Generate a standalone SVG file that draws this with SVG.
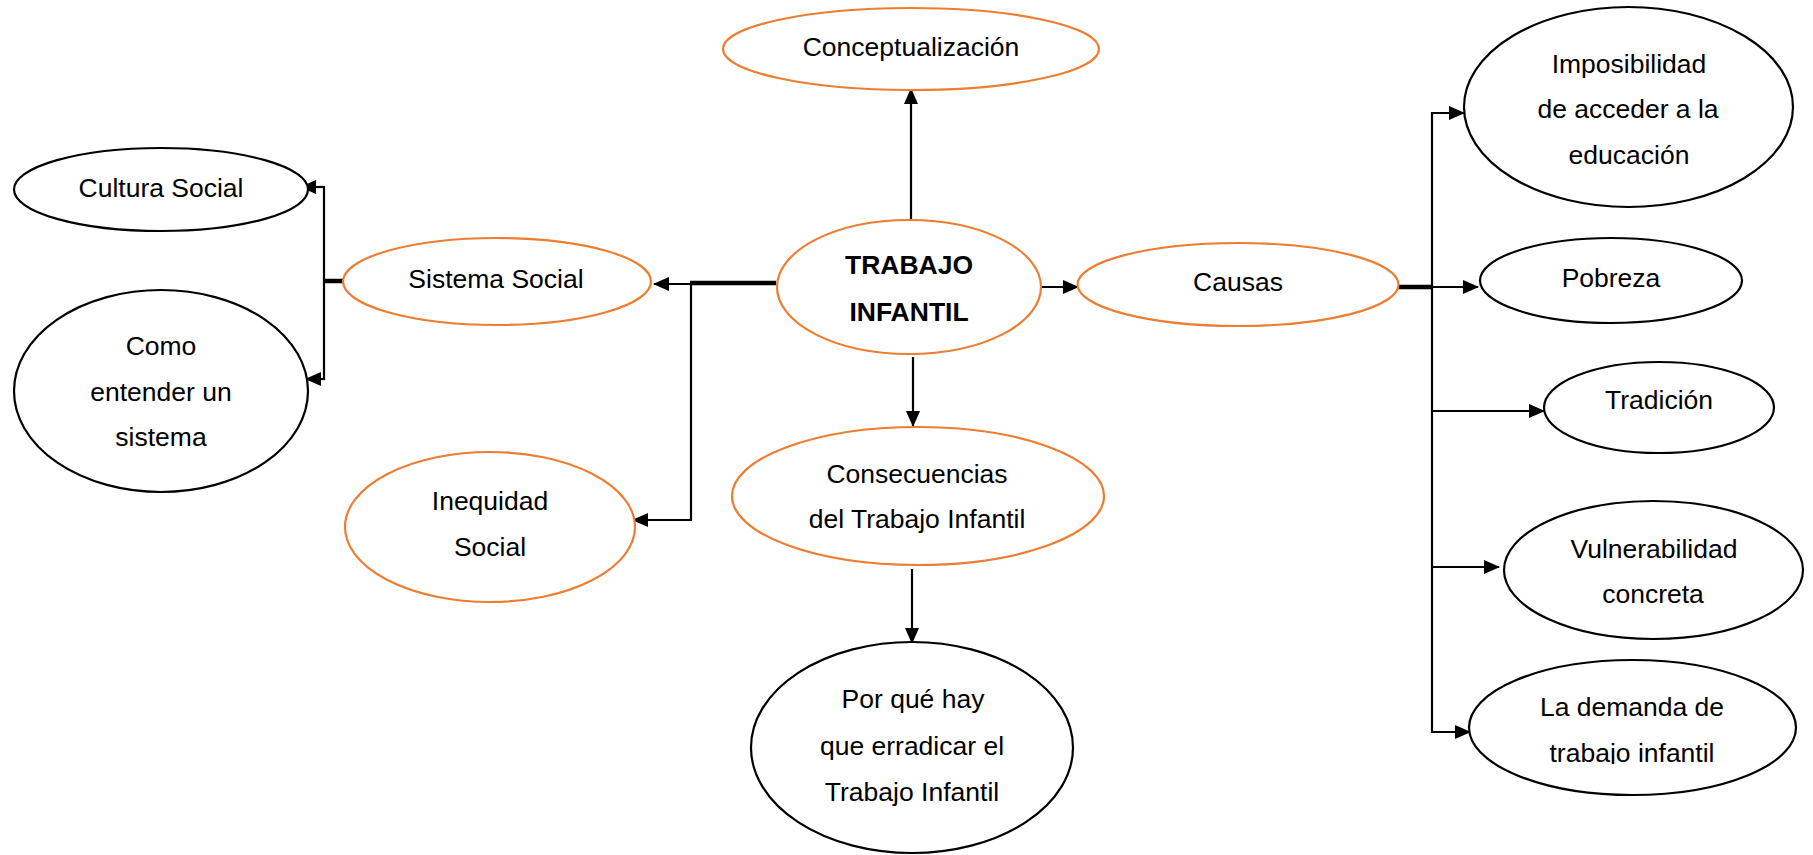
<svg xmlns="http://www.w3.org/2000/svg" width="1813" height="855" viewBox="0 0 1813 855">
<style>
  .o { fill: #fff; stroke: #ED7D31; stroke-width: 2.2; }
  .b { fill: #fff; stroke: #000; stroke-width: 2.2; }
  text { font-family: "Liberation Sans", Arial, sans-serif; font-size: 26.5px; fill: #000; text-anchor: middle; }
  .bold { font-weight: bold; }
  .ln { fill: none; stroke: #000; stroke-width: 2.2; }
  .thick { fill: none; stroke: #000; stroke-width: 4.5; }
  .arr { fill: none; stroke: #000; stroke-width: 2.2; marker-end: url(#ah); }
</style>
<defs>
  <marker id="ah" markerUnits="userSpaceOnUse" markerWidth="16" markerHeight="14" refX="15" refY="7" orient="auto">
    <path d="M0,0 L16,7 L0,14 Z" fill="#000"/>
  </marker>
  <clipPath id="clipDemanda"><rect x="1460" y="650" width="350" height="114"/></clipPath>
</defs>
<rect width="1813" height="855" fill="#fff"/>

<g id="connectors">
  <!-- TRABAJO -> Conceptualización -->
  <path class="arr" d="M911,220 L911,89"/>
  <!-- TRABAJO -> Causas -->
  <path class="arr" d="M1037,287 L1078,287"/>
  <!-- TRABAJO -> Consecuencias -->
  <path class="arr" d="M913,357 L913,426"/>
  <!-- Consecuencias -> Por qué -->
  <path class="arr" d="M912,569 L912,643"/>
  <!-- TRABAJO -> Sistema Social / Inequidad -->
  <path class="thick" d="M776,283 L690,283"/>
  <path class="arr" d="M691,284 L654,284"/>
  <path class="ln" d="M691,283 L691,520"/>
  <path class="arr" d="M692,520 L633,520"/>
  <!-- Sistema Social -> Cultura / Como -->
  <path class="thick" d="M344,281 L323,281"/>
  <path class="ln" d="M324,186 L324,380"/>
  <path class="arr" d="M325,187 L301,187"/>
  <path class="arr" d="M325,379 L306,379"/>
  <!-- Causas -> causes -->
  <path class="thick" d="M1398,287 L1432,287"/>
  <path class="ln" d="M1432,112 L1432,733"/>
  <path class="arr" d="M1431,113 L1464,113"/>
  <path class="arr" d="M1432,287 L1478,287"/>
  <path class="arr" d="M1431,411 L1544,411"/>
  <path class="arr" d="M1431,567 L1499,567"/>
  <path class="arr" d="M1431,732 L1470,732"/>
</g>

<g id="conceptualizacion">
  <ellipse class="o" cx="911" cy="49" rx="188" ry="41"/>
  <text x="911" y="56">Conceptualización</text>
</g>

<g id="trabajo-infantil">
  <ellipse class="o" cx="909" cy="287" rx="132" ry="67"/>
  <text class="bold" x="909" y="274">TRABAJO</text>
  <text class="bold" x="909" y="321">INFANTIL</text>
</g>

<g id="causas">
  <ellipse class="o" cx="1238" cy="284.5" rx="160.5" ry="41.5"/>
  <text x="1238" y="291">Causas</text>
</g>

<g id="sistema-social">
  <ellipse class="o" cx="497" cy="281.5" rx="154" ry="43.5"/>
  <text x="496" y="288">Sistema Social</text>
</g>

<g id="inequidad-social">
  <ellipse class="o" cx="490" cy="527" rx="145" ry="75"/>
  <text x="490" y="510">Inequidad</text>
  <text x="490" y="556">Social</text>
</g>

<g id="cultura-social">
  <ellipse class="b" cx="161" cy="189.5" rx="147" ry="41.5"/>
  <text x="161" y="197">Cultura Social</text>
</g>

<g id="como-entender">
  <ellipse class="b" cx="161" cy="391" rx="147" ry="101"/>
  <text x="161" y="355">Como</text>
  <text x="161" y="401">entender un</text>
  <text x="161" y="446">sistema</text>
</g>

<g id="consecuencias">
  <ellipse class="o" cx="918" cy="496" rx="186" ry="69"/>
  <text x="917" y="483">Consecuencias</text>
  <text x="917" y="528">del Trabajo Infantil</text>
</g>

<g id="por-que">
  <ellipse class="b" cx="912" cy="747.5" rx="161" ry="105.5"/>
  <text x="913" y="708">Por qué hay</text>
  <text x="912" y="755">que erradicar el</text>
  <text x="912" y="801">Trabajo Infantil</text>
</g>

<g id="imposibilidad">
  <ellipse class="b" cx="1628.5" cy="107" rx="164.5" ry="100"/>
  <text x="1629" y="73">Imposibilidad</text>
  <text x="1628" y="118">de acceder a la</text>
  <text x="1629" y="164">educación</text>
</g>

<g id="pobreza">
  <ellipse class="b" cx="1611" cy="280.5" rx="131" ry="42.5"/>
  <text x="1611" y="287">Pobreza</text>
</g>

<g id="tradicion">
  <ellipse class="b" cx="1659" cy="407.5" rx="115" ry="45.5"/>
  <text x="1659" y="409">Tradición</text>
</g>

<g id="vulnerabilidad">
  <ellipse class="b" cx="1653.5" cy="570" rx="149.5" ry="69"/>
  <text x="1654" y="558">Vulnerabilidad</text>
  <text x="1653" y="603">concreta</text>
</g>

<g id="demanda">
  <ellipse class="b" cx="1632.5" cy="727.5" rx="163.5" ry="67.5"/>
  <text x="1632" y="716">La demanda de</text>
  <text x="1632" y="762" clip-path="url(#clipDemanda)">trabajo infantil</text>
</g>
</svg>
